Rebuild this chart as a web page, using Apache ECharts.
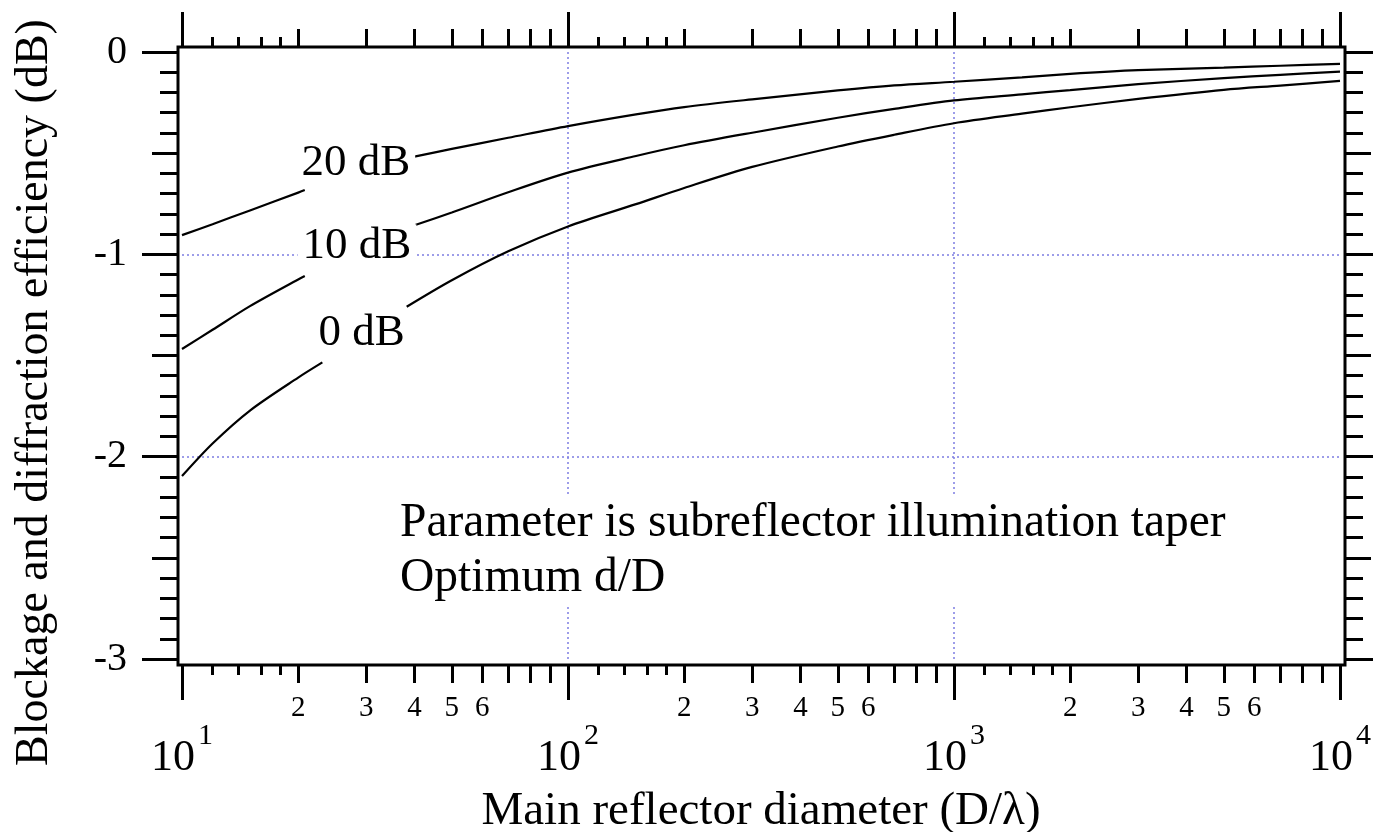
<!DOCTYPE html>
<html>
<head>
<meta charset="utf-8">
<script src="https://cdn.jsdelivr.net/npm/echarts@6/dist/echarts.min.js"></script>
<style>
  html, body { margin: 0; padding: 0; background: #fff; }
  #chart { width: 1373px; height: 832px; }
</style>
</head>
<body>
<div id="chart"></div>
<script>
// Main reflector diameter D/lambda and blockage + diffraction efficiency (dB),
// one curve per subreflector illumination taper. A null breaks the curve
// where its inline label sits.
const diam20 = [10, 12, 15, 20, 20.8, 30, 39.7, 50, 70, 100, 150, 200, 300, 500, 700, 1000, 1500, 2000, 3000, 5000, 7000, 10000];
const eff20  = [-0.905, -0.851, -0.783, -0.695, -0.682, null, -0.518, -0.479, -0.424, -0.366, -0.308, -0.272, -0.234, -0.190, -0.165, -0.147, -0.125, -0.108, -0.090, -0.077, -0.068, -0.059];

const diam10 = [10, 12, 15, 20, 20.8, 30, 40.2, 50, 70, 100, 150, 200, 300, 500, 700, 1000, 1500, 2000, 3000, 5000, 7000, 10000];
const eff10  = [-1.468, -1.373, -1.256, -1.124, -1.107, null, -0.855, -0.793, -0.693, -0.596, -0.514, -0.461, -0.399, -0.325, -0.281, -0.239, -0.209, -0.188, -0.159, -0.129, -0.113, -0.097];

const diam0  = [10, 12, 15, 20, 23.1, 30, 38.2, 50, 70, 100, 150, 200, 300, 500, 700, 1000, 1500, 2000, 3000, 5000, 7000, 10000];
const eff0   = [-2.096, -1.935, -1.772, -1.609, -1.534, null, -1.259, -1.128, -0.985, -0.862, -0.752, -0.672, -0.568, -0.467, -0.409, -0.352, -0.305, -0.273, -0.232, -0.187, -0.166, -0.143];

const curveNames = ['20 dB', '10 dB', '0 dB'];
// label anchor of each curve name, in data units [D/lambda, dB]
const curveLabelAt = [[28.2, -0.550], [28.4, -0.962], [29.2, -1.391]];

// Log-axis tick values
const decadeTicks = [10, 100, 1000, 10000];
const digitTicks = [20, 30, 40, 50, 60, 70, 80, 90, 200, 300, 400, 500, 600, 700, 800, 900, 2000, 3000, 4000, 5000, 6000, 7000, 8000, 9000];
const digitLabels = [20, 30, 40, 50, 60, 200, 300, 400, 500, 600, 2000, 3000, 4000, 5000, 6000];
const fineTicks = [12, 14, 16, 18, 120, 140, 160, 180, 1200, 1400, 1600, 1800];

const xTitle = 'Main reflector diameter (D/\u03bb)';
const yTitle = 'Blockage and diffraction efficiency (dB)';
const noteText = 'Parameter is subreflector illumination taper\nOptimum d/D';

const FONT = '"Liberation Serif", "Times New Roman", serif';
const GRID = { left: 182, right: 33, top: 52, bottom: 173 };
const OFF = { left: 4, right: 5, top: 5, bottom: 6 };
const W = 1373, H = 832;
const TICK = { color: '#000', width: 3 };
const GRIDLINE = { color: '#7d7de2', width: 1.5, type: [2, 3] };

function pairs(xs, ys) {
  return xs.map((x, i) => [x, ys[i] === null ? '-' : ys[i]]);
}

function logAxis(position, extra) {
  return Object.assign({
    type: 'log', logBase: 10, min: 10, max: 10000,
    position: position,
    offset: OFF[position],
    axisLine: { show: false, onZero: false },
    splitLine: { show: false },
    axisLabel: { show: false },
    axisTick: { show: false }
  }, extra);
}

function valAxis(position, interval, extra) {
  return Object.assign({
    type: 'value', min: -3, max: 0, interval: interval,
    position: position,
    offset: OFF[position],
    axisLine: { show: false, onZero: false },
    splitLine: { show: false },
    axisLabel: { show: false },
    axisTick: { show: false }
  }, extra);
}

const xAxes = [];
['bottom', 'top'].forEach(function (pos) {
  const isBottom = pos === 'bottom';
  xAxes.push(logAxis(pos, {
    axisTick: { show: true, length: 35, lineStyle: TICK, customValues: decadeTicks },
    splitLine: isBottom ? { show: true, showMinLine: false, showMaxLine: false, lineStyle: GRIDLINE } : { show: false },
    axisLabel: isBottom ? {
      show: true, customValues: decadeTicks, margin: 56, interval: 0,
      showMinLabel: true, showMaxLabel: true,
      formatter: function (v) { return '{b|10}{s|' + Math.round(Math.log10(v)) + '}'; },
      rich: {
        b: { fontFamily: FONT, fontSize: 44, color: '#000', lineHeight: 59, verticalAlign: 'bottom' },
        s: { fontFamily: FONT, fontSize: 30, color: '#000', lineHeight: 30, verticalAlign: 'top', padding: [0, 0, 0, 3] }
      }
    } : { show: false },
    name: isBottom ? xTitle : '',
    nameLocation: 'middle',
    nameGap: 123,
    nameMoveOverlap: false,
    nameTextStyle: { fontFamily: FONT, fontSize: 47, color: '#000' }
  }));
  xAxes.push(logAxis(pos, {
    axisTick: { show: true, length: 18, lineStyle: TICK, customValues: digitTicks },
    axisLabel: isBottom ? {
      show: true, customValues: digitLabels, margin: 29, interval: 0,
      fontFamily: FONT, fontSize: 29, color: '#000',
      formatter: function (v) { return String(Math.round(v / Math.pow(10, Math.floor(Math.log10(v) + 1e-9)))); }
    } : { show: false }
  }));
  xAxes.push(logAxis(pos, {
    axisTick: { show: true, length: 10, lineStyle: TICK, customValues: fineTicks }
  }));
});

const yAxes = [];
['left', 'right'].forEach(function (pos) {
  const isLeft = pos === 'left';
  yAxes.push(valAxis(pos, 1, {
    axisTick: { show: true, length: 36, lineStyle: TICK },
    splitLine: isLeft ? { show: true, showMinLine: false, showMaxLine: false, lineStyle: GRIDLINE } : { show: false },
    axisLabel: isLeft ? { show: true, margin: 51, fontFamily: FONT, fontSize: 40, color: '#000',
      showMinLabel: true, showMaxLabel: true } : { show: false },
    name: isLeft ? yTitle : '',
    nameLocation: 'middle',
    nameGap: 120,
    nameMoveOverlap: false,
    nameTextStyle: { fontFamily: FONT, fontSize: 46, color: '#000', padding: [0, 74, 0, 0] }
  }));
  yAxes.push(valAxis(pos, 0.5, { axisTick: { show: true, length: 26, lineStyle: TICK } }));
  yAxes.push(valAxis(pos, 0.1, { axisTick: { show: true, length: 18, lineStyle: TICK } }));
});

const curves = [[diam20, eff20], [diam10, eff10], [diam0, eff0]];
const series = curves.map(function (c, i) {
  return {
    type: 'line',
    name: curveNames[i],
    xAxisIndex: 0, yAxisIndex: 0,
    data: pairs(c[0], c[1]),
    showSymbol: false, symbol: 'none',
    smooth: 0.3,
    connectNulls: false,
    lineStyle: { color: '#000', width: 2.2 },
    markPoint: {
      symbol: 'rect', symbolSize: [1, 1],
      itemStyle: { color: 'rgba(0,0,0,0)' },
      label: {
        show: true, position: 'inside', formatter: curveNames[i],
        fontFamily: FONT, fontSize: 45, color: '#000',
        backgroundColor: '#fff', padding: [0, 5]
      },
      data: [{ coord: curveLabelAt[i] }]
    },
    z: 3
  };
});

const frameX = GRID.left - OFF.left;
const frameY = GRID.top - OFF.top;

const chart = echarts.init(document.getElementById('chart'), null, { renderer: 'canvas' });
chart.setOption({
  animation: false,
  backgroundColor: '#fff',
  textStyle: { fontFamily: FONT },
  grid: Object.assign({ containLabel: false, outerBoundsMode: 'none' }, GRID),
  xAxis: xAxes,
  yAxis: yAxes,
  series: series,
  graphic: [
    {
      type: 'rect', z: 10, silent: true,
      shape: {
        x: frameX, y: frameY,
        width: (W - GRID.right + OFF.right) - frameX,
        height: (H - GRID.bottom + OFF.bottom) - frameY
      },
      style: { fill: null, stroke: '#000', lineWidth: 3 }
    },
    {
      type: 'text', z: 5, silent: true,
      x: 394, y: 496,
      style: {
        text: noteText,
        font: '47.5px ' + FONT,
        fill: '#000',
        lineHeight: 55,
        backgroundColor: '#fff',
        padding: [0, 6]
      }
    }
  ]
});
</script>
</body>
</html>
